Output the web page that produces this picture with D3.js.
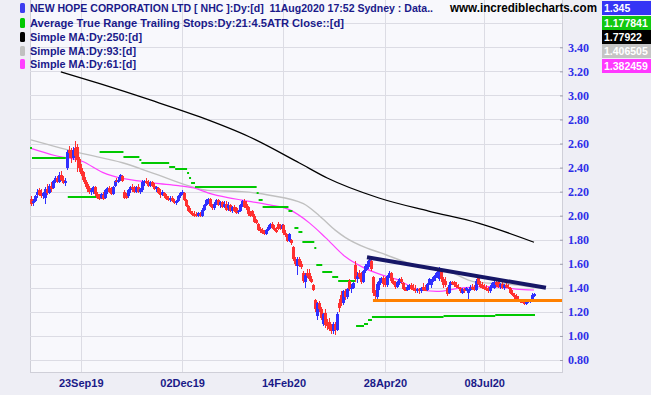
<!DOCTYPE html>
<html><head><meta charset="utf-8">
<script src="https://cdn.jsdelivr.net/npm/d3@7"></script>
<style>body{margin:0;background:#eeeef5;} svg{display:block;}</style>
</head><body><svg id="c" width="651" height="395"></svg>
<script>
// ---- data ----
// daily bars [open, high, low, close]
const priceBars = [
[2.14,2.16,2.08,2.10],[2.11,2.14,2.08,2.12],[2.12,2.17,2.11,2.16],[2.17,2.22,2.15,2.20],[2.21,2.23,2.16,2.17],
[2.18,2.22,2.15,2.16],[2.16,2.20,2.14,2.19],[2.15,2.24,2.10,2.22],[2.22,2.26,2.17,2.19],[2.19,2.26,2.18,2.25],
[2.25,2.28,2.20,2.22],[2.23,2.30,2.22,2.29],[2.29,2.33,2.27,2.31],[2.31,2.33,2.27,2.28],[2.28,2.36,2.27,2.34],
[2.34,2.37,2.29,2.30],[2.30,2.33,2.26,2.27],[2.27,2.31,2.25,2.29],[2.40,2.55,2.38,2.53],[2.55,2.58,2.48,2.52],
[2.52,2.56,2.44,2.48],[2.48,2.57,2.46,2.55],[2.56,2.62,2.45,2.50],[2.57,2.60,2.36,2.46],[2.47,2.49,2.36,2.40],
[2.40,2.43,2.33,2.35],[2.36,2.37,2.28,2.30],[2.30,2.32,2.24,2.26],[2.26,2.28,2.20,2.22],[2.23,2.25,2.18,2.20],
[2.20,2.23,2.17,2.21],[2.20,2.25,2.18,2.24],[2.24,2.25,2.16,2.18],[2.18,2.20,2.14,2.15],[2.16,2.18,2.13,2.14],
[2.15,2.19,2.14,2.18],[2.17,2.20,2.13,2.14],[2.15,2.22,2.14,2.21],[2.21,2.24,2.18,2.23],[2.23,2.25,2.19,2.20],
[2.20,2.24,2.17,2.18],[2.18,2.25,2.17,2.24],[2.25,2.30,2.24,2.29],[2.29,2.31,2.26,2.28],[2.28,2.32,2.27,2.30],
[2.30,2.35,2.29,2.34],[2.33,2.34,2.28,2.29],[2.20,2.21,2.14,2.15],[2.18,2.19,2.14,2.15],[2.16,2.22,2.15,2.21],
[2.21,2.25,2.19,2.24],[2.24,2.26,2.20,2.22],[2.22,2.25,2.19,2.20],[2.20,2.25,2.19,2.24],[2.24,2.26,2.19,2.20],
[2.20,2.23,2.18,2.22],[2.21,2.30,2.20,2.28],[2.28,2.30,2.25,2.29],[2.29,2.31,2.26,2.27],[2.27,2.30,2.24,2.25],
[2.25,2.29,2.24,2.28],[2.28,2.29,2.24,2.25],[2.25,2.27,2.21,2.22],[2.22,2.25,2.20,2.24],[2.23,2.24,2.18,2.19],
[2.19,2.22,2.15,2.17],[2.17,2.21,2.16,2.20],[2.19,2.20,2.15,2.16],[2.16,2.18,2.13,2.14],[2.14,2.16,2.12,2.13],
[2.13,2.16,2.11,2.15],[2.15,2.16,2.11,2.12],[2.12,2.14,2.10,2.11],[2.11,2.13,2.09,2.12],[2.12,2.17,2.11,2.16],
[2.16,2.20,2.15,2.19],[2.19,2.21,2.17,2.20],[2.19,2.20,2.12,2.13],[2.13,2.14,2.07,2.08],[2.08,2.09,2.03,2.04],
[2.04,2.06,2.01,2.02],[2.02,2.04,2.00,2.01],[2.01,2.04,1.99,2.00],[2.01,2.03,1.99,2.00],[2.00,2.03,1.99,2.02],
[2.01,2.03,1.99,2.00],[2.00,2.06,1.99,2.05],[2.05,2.10,2.04,2.09],[2.09,2.14,2.08,2.13],[2.13,2.15,2.10,2.14],
[2.14,2.15,2.07,2.08],[2.08,2.10,2.05,2.06],[2.06,2.11,2.05,2.10],[2.10,2.14,2.09,2.13],[2.13,2.14,2.08,2.09],
[2.09,2.12,2.06,2.11],[2.11,2.12,2.06,2.07],[2.07,2.12,2.06,2.10],[2.10,2.12,2.04,2.05],[2.06,2.11,2.04,2.09],
[2.09,2.10,2.03,2.04],[2.04,2.08,2.02,2.07],[2.07,2.09,2.03,2.04],[2.06,2.07,2.01,2.02],[2.03,2.05,2.01,2.04],
[2.04,2.10,2.03,2.09],[2.09,2.13,2.07,2.12],[2.12,2.14,2.06,2.07],[2.10,2.12,2.05,2.06],[2.07,2.08,2.00,2.01],
[2.02,2.04,1.99,2.00],[2.04,2.05,1.99,2.00],[2.00,2.01,1.94,1.95],[1.96,1.97,1.93,1.94],[1.93,1.94,1.87,1.88],
[1.89,1.91,1.86,1.87],[1.88,1.90,1.85,1.86],[1.86,1.88,1.84,1.85],[1.85,1.89,1.84,1.88],[1.88,1.92,1.87,1.91],
[1.91,1.94,1.89,1.93],[1.93,1.95,1.89,1.90],[1.90,1.92,1.87,1.88],[1.88,1.91,1.86,1.87],[1.93,1.95,1.88,1.89],
[1.90,1.93,1.88,1.89],[1.89,1.93,1.88,1.92],[1.92,1.93,1.84,1.86],[1.86,1.88,1.82,1.84],[1.84,1.85,1.78,1.79],
[1.79,1.86,1.78,1.85],[1.80,1.81,1.76,1.77],[1.74,1.75,1.62,1.64],[1.64,1.66,1.58,1.60],[1.58,1.66,1.51,1.64],
[1.64,1.66,1.57,1.59],[1.60,1.62,1.56,1.57],[1.52,1.54,1.44,1.46],[1.45,1.52,1.40,1.51],[1.52,1.56,1.48,1.50],
[1.52,1.56,1.46,1.47],[1.47,1.50,1.44,1.45],[1.42,1.43,1.37,1.38],[1.30,1.31,1.20,1.22],[1.17,1.28,1.13,1.27],
[1.27,1.29,1.20,1.22],[1.22,1.24,1.13,1.15],[1.10,1.19,1.08,1.18],[1.19,1.22,1.07,1.09],[1.10,1.14,1.05,1.08],
[1.12,1.15,1.04,1.06],[1.08,1.10,1.02,1.04],[1.04,1.12,1.02,1.10],[1.10,1.12,1.01,1.05],[1.05,1.20,1.04,1.18],
[1.27,1.31,1.20,1.23],[1.34,1.37,1.25,1.27],[1.27,1.38,1.26,1.37],[1.37,1.39,1.30,1.32],[1.32,1.40,1.31,1.39],
[1.46,1.47,1.37,1.39],[1.39,1.43,1.36,1.40],[1.40,1.45,1.39,1.44],[1.59,1.62,1.45,1.47],[1.47,1.53,1.44,1.50],
[1.52,1.55,1.47,1.49],[1.50,1.53,1.43,1.45],[1.45,1.55,1.44,1.54],[1.54,1.60,1.52,1.58],[1.56,1.62,1.55,1.60],
[1.59,1.66,1.57,1.63],[1.62,1.63,1.54,1.56],[1.49,1.50,1.33,1.36],[1.36,1.38,1.30,1.33],[1.32,1.45,1.30,1.43],
[1.42,1.48,1.38,1.46],[1.46,1.49,1.44,1.48],[1.48,1.50,1.41,1.43],[1.48,1.49,1.41,1.42],[1.42,1.51,1.41,1.50],
[1.50,1.54,1.48,1.52],[1.52,1.53,1.44,1.46],[1.46,1.48,1.42,1.43],[1.43,1.46,1.39,1.41],[1.41,1.46,1.40,1.45],
[1.44,1.48,1.42,1.47],[1.47,1.49,1.43,1.45],[1.44,1.45,1.38,1.39],[1.39,1.41,1.37,1.38],[1.38,1.42,1.37,1.41],
[1.40,1.43,1.38,1.42],[1.42,1.44,1.38,1.39],[1.40,1.43,1.37,1.38],[1.39,1.42,1.36,1.37],[1.37,1.40,1.36,1.39],
[1.39,1.40,1.35,1.37],[1.37,1.41,1.36,1.40],[1.41,1.44,1.37,1.38],[1.39,1.42,1.37,1.38],[1.38,1.44,1.37,1.43],
[1.43,1.48,1.42,1.47],[1.42,1.47,1.40,1.46],[1.46,1.50,1.45,1.49],[1.48,1.52,1.46,1.51],[1.50,1.54,1.48,1.53],
[1.47,1.57,1.46,1.54],[1.54,1.56,1.45,1.47],[1.47,1.49,1.40,1.42],[1.46,1.49,1.41,1.42],[1.40,1.41,1.33,1.35],
[1.36,1.43,1.35,1.42],[1.42,1.46,1.41,1.45],[1.45,1.46,1.42,1.43],[1.45,1.46,1.41,1.42],[1.42,1.45,1.40,1.41],
[1.41,1.43,1.39,1.40],[1.40,1.41,1.36,1.37],[1.36,1.40,1.35,1.39],[1.39,1.40,1.36,1.37],[1.38,1.41,1.37,1.40],
[1.36,1.39,1.31,1.38],[1.38,1.42,1.37,1.41],[1.41,1.43,1.38,1.39],[1.40,1.42,1.37,1.38],[1.38,1.47,1.37,1.46],
[1.49,1.51,1.42,1.43],[1.43,1.46,1.40,1.41],[1.42,1.45,1.39,1.40],[1.41,1.43,1.38,1.39],[1.40,1.42,1.37,1.38],
[1.39,1.41,1.36,1.37],[1.37,1.42,1.36,1.41],[1.41,1.45,1.40,1.44],[1.40,1.47,1.39,1.45],[1.45,1.46,1.41,1.42],
[1.45,1.46,1.40,1.41],[1.41,1.44,1.39,1.43],[1.43,1.45,1.39,1.40],[1.40,1.43,1.38,1.42],[1.42,1.44,1.40,1.41],
[1.41,1.43,1.39,1.40],[1.40,1.41,1.35,1.36],[1.36,1.38,1.33,1.34],[1.34,1.36,1.31,1.32],[1.33,1.35,1.30,1.31],
[1.31,1.33,1.29,1.30],[1.30,1.31,1.27,1.28],[1.29,1.30,1.27,1.28],[1.28,1.29,1.26,1.27],[1.27,1.29,1.26,1.28],
[1.28,1.31,1.27,1.30],[1.28,1.31,1.27,1.30],[1.30,1.36,1.29,1.34],[1.33,1.36,1.32,1.345]
];
// moving averages read at bar positions [barIndex, value]
const ma250 = [[15,3.195],[35,3.095],[60,2.962],[85,2.821],[110,2.654],[135,2.438],[149,2.313],[175,2.147],[200,2.038],[225,1.938],[253,1.779]];
const ma93  = [[0,2.63],[25,2.52],[46,2.44],[62,2.35],[79,2.25],[89,2.21],[106,2.20],[120,2.17],[137,2.10],[145,2.00],[153,1.88],[158,1.82],[169,1.73],[176,1.69],[191,1.60],[211,1.53],[223,1.45],[241,1.43],[253,1.4065]];
const ma61  = [[0,2.56],[12,2.50],[26,2.45],[36,2.36],[46,2.31],[54,2.29],[62,2.27],[74,2.25],[82,2.23],[89,2.19],[99,2.15],[106,2.13],[120,2.09],[130,2.05],[140,1.94],[148,1.82],[158,1.66],[167,1.57],[176,1.51],[184,1.47],[194,1.39],[204,1.37],[217,1.40],[231,1.41],[244,1.39],[253,1.382]];
// ATR trailing stop steps [firstBar, lastBar, value]
const atrStops = [[0,0,2.56],[1,17,2.48],[19,34,2.155],[35,46,2.53],[47,54,2.49],[55,55,2.46],[56,69,2.44],[70,72,2.405],[73,78,2.39],[79,79,2.355],[80,80,2.31],[81,82,2.27],[83,113,2.24],[114,114,2.19],[115,116,2.13],[117,129,2.07],[130,131,2.04],[133,134,1.90],[135,136,1.865],[137,142,1.78],[143,143,1.73],[144,146,1.59],[147,151,1.53],[152,154,1.49],[155,163,1.455],[164,167,1.08],[168,169,1.10],[170,171,1.13],[172,207,1.155],[208,233,1.17],[234,253,1.178]];
const supportLevel = [172, 1.295];
const trendLine = [[169,1.655],[259,1.40]];
const yTicks = [0.8,1.0,1.2,1.4,1.6,1.8,2.0,2.2,2.4,2.6,2.8,3.0,3.2,3.4];
const yGridExtra = [3.6];
const xTickIndex = [25,76,127,178,228];
const xTickLabels = ["23Sep19","02Dec19","14Feb20","28Apr20","08Jul20"];
const legendLabels = ["NEW HOPE CORPORATION LTD [ NHC ]:Dy:[d]  11Aug2020 17:52 Sydney : Data..","Average True Range Trailing Stops:Dy:21:4.5ATR Close::[d]","Simple MA:Dy:250:[d]","Simple MA:Dy:93:[d]","Simple MA:Dy:61:[d]"];
const legendWidths = [403, 314, 112, 106, 106];
const legendColors = ["#3c3cf0","#00c800","#000000","#c0c0c0","#ff40ff"];
const lastValues = ["1.345","1.177841","1.77922","1.406505","1.382459"];
const lastColors = ["#3535f5","#10c810","#000000","#c4c4c4","#ff38ff"];

// ---- drawing ----
const svg = d3.select("#c");
const L = 30, R = 562, T = -1, B = 372;
const x = d3.scaleLinear().domain([0,253]).range([31,534]);
const y = d3.scaleLinear().domain([0.8,3.4]).range([360,47.3]);

svg.append("rect").attr("x",0).attr("y",0).attr("width",651).attr("height",395).attr("fill","#eeeef5");
svg.append("rect").attr("x",L).attr("y",T).attr("width",R-L).attr("height",B-T)
  .attr("fill","#f8f8fc").attr("stroke","#cfcfd8").attr("stroke-width",1).attr("shape-rendering","crispEdges");

svg.append("clipPath").attr("id","clip").append("rect").attr("x",L).attr("y",0).attr("width",R-L).attr("height",B);

const grid = svg.append("g").attr("shape-rendering","crispEdges").attr("stroke","#dcdce4");
grid.selectAll("line.h").data(yTicks.concat(yGridExtra)).join("line")
  .attr("x1",L).attr("x2",R).attr("y1",d=>Math.round(y(d))+0.5).attr("y2",d=>Math.round(y(d))+0.5);
grid.selectAll("line.v").data(xTickIndex).join("line").attr("class","v")
  .attr("x1",d=>Math.round(x(d))+0.5).attr("x2",d=>Math.round(x(d))+0.5).attr("y1",0).attr("y2",B);

const plot = svg.append("g").attr("clip-path","url(#clip)");

// moving averages
const line = d3.line().x(d=>x(d[0])).y(d=>y(d[1])).curve(d3.curveMonotoneX);
plot.append("path").datum(ma250).attr("d",line).attr("fill","none").attr("stroke","#000").attr("stroke-width",1.3);
plot.append("path").datum(ma93).attr("d",line).attr("fill","none").attr("stroke","#c0c0c0").attr("stroke-width",1.4);
plot.append("path").datum(ma61).attr("d",line).attr("fill","none").attr("stroke","#ff40ff").attr("stroke-width",1.2);

// ATR trailing stops
plot.append("g").selectAll("line").data(atrStops).join("line")
  .attr("x1",d=>x(d[0])-1).attr("x2",d=>x(d[1])+1)
  .attr("y1",d=>Math.round(y(d[2]))).attr("y2",d=>Math.round(y(d[2])))
  .attr("stroke","#00c800").attr("stroke-width",2);

// candles
const cg = plot.append("g").attr("shape-rendering","crispEdges");
const col = d=> d[3] < d[0] ? "#ff3030" : "#3030ff";
cg.selectAll("rect.w").data(priceBars).join("rect")
  .attr("x",(d,i)=>Math.round(x(i))).attr("width",1)
  .attr("y",d=>y(d[1])).attr("height",d=>Math.max(1,y(d[2])-y(d[1])))
  .attr("fill",col);
cg.selectAll("rect.b").data(priceBars).join("rect").attr("class","b")
  .attr("x",(d,i)=>Math.round(x(i))-1).attr("width",3)
  .attr("y",d=>y(Math.max(d[0],d[3]))).attr("height",d=>Math.max(1.5,Math.abs(y(d[0])-y(d[3]))))
  .attr("fill",col);

// support & trend lines
plot.append("line").attr("x1",x(supportLevel[0])).attr("x2",R)
  .attr("y1",y(supportLevel[1])).attr("y2",y(supportLevel[1]))
  .attr("stroke","#ff8000").attr("stroke-width",3);
plot.append("line").attr("x1",x(trendLine[0][0])).attr("y1",y(trendLine[0][1]))
  .attr("x2",x(trendLine[1][0])).attr("y2",y(trendLine[1][1]))
  .attr("stroke","#161666").attr("stroke-width",4);

// y axis
const ya = svg.append("g").attr("transform",`translate(${R-2},0)`)
  .call(d3.axisRight(y).tickValues(yTicks).tickFormat(d3.format(".2f")).tickSize(3).tickPadding(5));
ya.select(".domain").remove();
ya.selectAll(".tick line").attr("stroke","#a0a0b0");
ya.selectAll("text").attr("fill","#2e2ee8").attr("font-family","'Liberation Serif','Times New Roman',serif")
  .attr("font-weight","bold").attr("font-size","12px");

// x axis
const xa = svg.append("g").attr("transform",`translate(0,${B})`)
  .call(d3.axisBottom(x).tickValues(xTickIndex).tickFormat((d,i)=>xTickLabels[i]).tickSize(0).tickPadding(7));
xa.select(".domain").remove();
xa.selectAll("text").attr("fill","#1a1a88").attr("font-family","'Liberation Sans',Arial,sans-serif")
  .attr("font-weight","bold").attr("font-size","11px");

// legend
const legendY = [12,27,41,55,68];
const lg = svg.append("g");
lg.selectAll("rect").data(legendLabels).join("rect")
  .attr("x",20).attr("y",(d,i)=>legendY[i]-9).attr("width",5).attr("height",10).attr("rx",1.5)
  .attr("fill",(d,i)=>legendColors[i]);
lg.selectAll("text").data(legendLabels).join("text")
  .attr("x",30).attr("y",(d,i)=>legendY[i]).text(d=>d)
  .attr("textLength",(d,i)=>legendWidths[i]).attr("lengthAdjust","spacingAndGlyphs")
  .attr("fill","#1a1a8a").attr("font-family","'Liberation Sans',Arial,sans-serif")
  .attr("font-weight","bold").attr("font-size","11px").style("white-space","pre");

svg.append("text").attr("x",450).attr("y",12).text("www.incrediblecharts.com")
  .attr("font-family","'Liberation Sans',Arial,sans-serif").attr("font-weight","bold").attr("font-size","12px")
  .attr("textLength",147).attr("lengthAdjust","spacingAndGlyphs").attr("fill","#000");

// last-value boxes
const boxY = [1,16,30,44,59];
const vb = svg.append("g");
vb.selectAll("rect").data(lastValues).join("rect")
  .attr("x",602).attr("y",(d,i)=>boxY[i]).attr("width",49).attr("height",14).attr("fill",(d,i)=>lastColors[i]);
vb.selectAll("text").data(lastValues).join("text")
  .attr("x",604).attr("y",(d,i)=>boxY[i]+11).text(d=>d).attr("fill","#fff")
  .attr("font-family","'Liberation Sans',Arial,sans-serif").attr("font-weight","bold").attr("font-size","10.5px");
</script></body></html>
